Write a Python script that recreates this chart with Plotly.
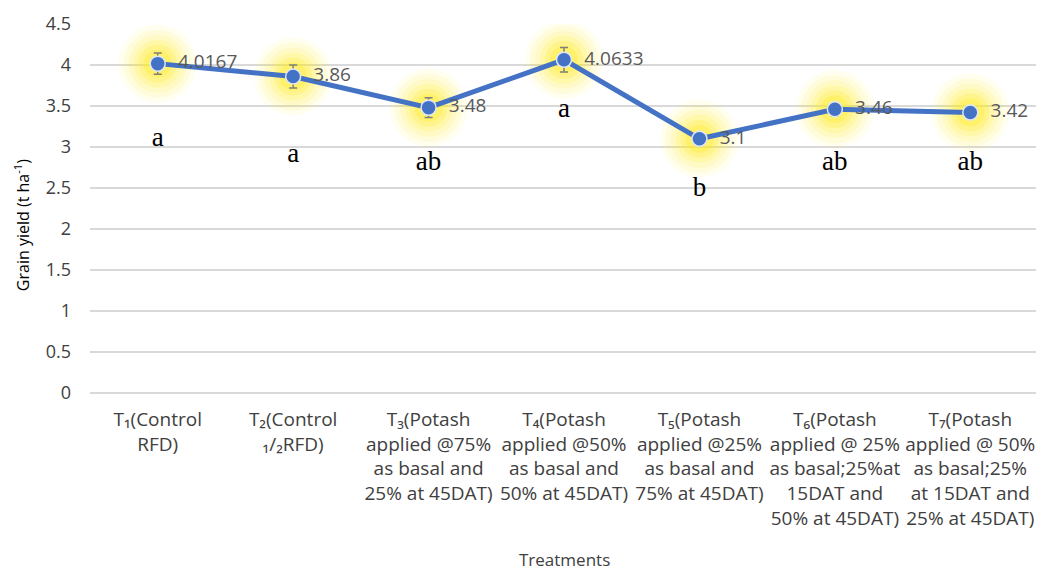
import plotly.graph_objects as go

categories = [
    "T₁(Control<br>RFD)",
    "T₂(Control<br>₁/₂RFD)",
    "T₃(Potash<br>applied @75%<br>as basal and<br>25% at 45DAT)",
    "T₄(Potash<br>applied @50%<br>as basal and<br>50% at 45DAT)",
    "T₅(Potash<br>applied @25%<br>as basal and<br>75% at 45DAT)",
    "T₆(Potash<br>applied @ 25%<br>as basal;25%at<br>15DAT and<br>50% at 45DAT)",
    "T₇(Potash<br>applied @ 50%<br>as basal;25%<br>at 15DAT and<br>25% at 45DAT)",
]
yield_values = [4.0167, 3.86, 3.48, 4.0633, 3.1, 3.46, 3.42]
error_values = [0.13, 0.14, 0.12, 0.15, 0.03, 0.08, 0.03]
letters = ["a", "a", "ab", "a", "b", "ab", "ab"]
letter_y = [3.09, 2.90, 2.80, 3.45, 2.48, 2.80, 2.80]

FONT = "Open Sans, Noto Sans, sans-serif"

fig = go.Figure()

# soft yellow glow
for size, alpha in [(78, 0.07), (68, 0.09), (58, 0.12), (48, 0.16), (38, 0.21), (28, 0.3)]:
    fig.add_trace(go.Scatter(
        x=categories, y=yield_values, mode="markers",
        marker=dict(size=size, color=f"rgba(255,238,30,{alpha})", line=dict(width=0)),
        hoverinfo="skip", showlegend=False,
    ))

fig.add_trace(go.Scatter(
    x=categories, y=yield_values, mode="lines+markers+text",
    line=dict(color="#4472C4", width=5),
    marker=dict(size=15, color="#4472C4", line=dict(color="#dfe6f5", width=1.5)),
    error_y=dict(type="data", array=error_values, color="#7f7f7f", thickness=1.5, width=4),
    text=[f"  {v:g}" for v in yield_values],
    textposition="middle right",
    textfont=dict(family=FONT, size=19, color="#595959"),
    hoverinfo="skip", showlegend=False,
))

fig.add_trace(go.Scatter(
    x=categories, y=letter_y, mode="text", text=letters,
    textfont=dict(family="Liberation Serif, serif", size=27, color="#000000"),
    hoverinfo="skip", showlegend=False,
))

fig.update_layout(
    width=1036, height=564,
    margin=dict(l=82, r=6, t=16, b=179),
    paper_bgcolor="white", plot_bgcolor="white",
    font=dict(family=FONT, color="#595959"),
    xaxis=dict(
        type="category", automargin=False, range=[-0.5, 6.5], tickangle=0,
        tickfont=dict(family=FONT, size=19, color="#404040"),
        showgrid=False, showline=False, zeroline=False, ticks="",
        ticklabelstandoff=13,
    ),
    yaxis=dict(
        range=[0, 4.5], automargin=False,
        tickvals=[0, 0.5, 1, 1.5, 2, 2.5, 3, 3.5, 4, 4.5],
        ticktext=["0", "0.5", "1", "1.5", "2", "2.5", "3", "3.5", "4", "4.5"],
        tickfont=dict(family=FONT, size=18, color="#404040"),
        gridcolor="#d9d9d9", gridwidth=1.5, zeroline=True, zerolinecolor="#d9d9d9", zerolinewidth=1.5,
        showline=False, ticks="", ticklen=0, ticklabelstandoff=18,
    ),
    annotations=[
        dict(text="Treatments", xref="paper", yref="paper", x=0.5, y=-0.452,
             xanchor="center", yanchor="middle", showarrow=False,
             font=dict(family=FONT, size=17, color="#404040")),
        dict(text="Grain yield (t ha<sup>-1</sup>)", xref="paper", yref="paper",
             x=-0.0717, y=0.455, xanchor="center", yanchor="middle", textangle=-90,
             showarrow=False, font=dict(family=FONT, size=16, color="#000000")),
    ],
)

fig.write_html("out.html")
